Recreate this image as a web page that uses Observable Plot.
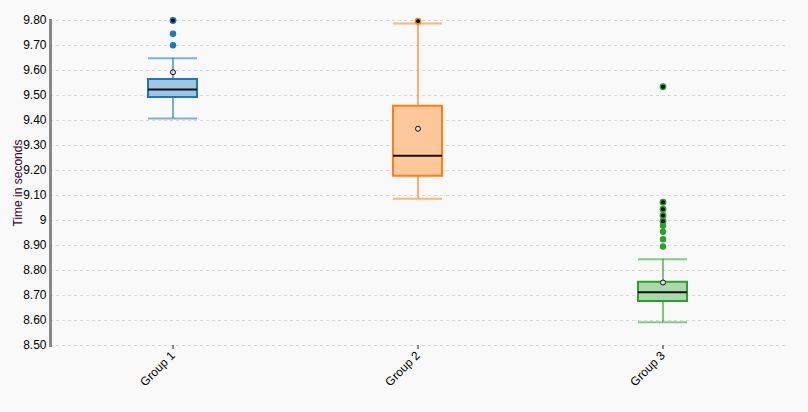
<!DOCTYPE html>
<html>
<head>
<meta charset="utf-8">
<script src="https://cdn.jsdelivr.net/npm/d3@7"></script>
<script src="https://cdn.jsdelivr.net/npm/@observablehq/plot@0.6"></script>
<style>
  html, body { margin: 0; padding: 0; background: #f9f9f9; }
  #chart svg { display: block; background: #f9f9f9; }
</style>
</head>
<body>
<div id="chart"></div>
<script>
const groups = ["Group 1", "Group 2", "Group 3"];
const colors = ["#1f77b4", "#ff7f0e", "#2ca02c"];
const fills = ["#9ec6e2", "#ffc89a", "#a9d8a9"];
const q1 = [9.492, 9.177, 8.676];
const median = [9.524, 9.259, 8.713];
const q3 = [9.564, 9.457, 8.753];
const whiskerLow = [9.408, 9.087, 8.593];
const whiskerHigh = [9.649, 9.788, 8.845];
const means = [9.593, 9.367, 8.752];
const outliers = [
  ["Group 1", 9.747], ["Group 1", 9.701],
  ["Group 3", 8.979], ["Group 3", 8.955], ["Group 3", 8.925], ["Group 3", 8.896]
];
const extremes = [
  ["Group 1", 9.80], ["Group 2", 9.797],
  ["Group 3", 9.535], ["Group 3", 9.073], ["Group 3", 9.045], ["Group 3", 9.02], ["Group 3", 8.997]
];
const yTicks = [8.5, 8.6, 8.7, 8.8, 8.9, 9.0, 9.1, 9.2, 9.3, 9.4, 9.5, 9.6, 9.7, 9.8];
const yTickLabels = ["8.50", "8.60", "8.70", "8.80", "8.90", "9", "9.10", "9.20", "9.30", "9.40", "9.50", "9.60", "9.70", "9.80"];

const boxes = groups.map((g, i) => ({
  group: g, q1: q1[i], median: median[i], q3: q3[i],
  lo: whiskerLow[i], hi: whiskerHigh[i], mean: means[i]
}));
const outData = outliers.map(([group, value]) => ({group, value}));
const extData = extremes.map(([group, value]) => ({group, value}));
const colorScale = {domain: groups, range: colors};
const fillOf = g => fills[groups.indexOf(g)];
const inset = 98;

const chart = Plot.plot({
  width: 808,
  height: 412,
  marginLeft: 50,
  marginTop: 20,
  marginRight: 23,
  marginBottom: 67,
  style: {fontFamily: "'Liberation Sans', Arial, sans-serif", fontSize: "12px", background: "#f9f9f9", color: "#000"},
  x: {domain: groups, padding: 0, label: null},
  y: {domain: [8.5, 9.8], label: null},
  color: colorScale,
  marks: [
    Plot.gridY(yTicks, {stroke: "#d8d8d8", strokeOpacity: 1, strokeDasharray: "3,3"}),
    Plot.axisY(yTicks, {tickSize: 0, tickPadding: 4, tickFormat: d => yTickLabels[yTicks.indexOf(d)], fontSize: 12}),
    Plot.axisY({ticks: [], label: "Time in seconds", labelAnchor: "center", labelArrow: "none", labelOffset: 37, fill: "#300030"}),
    Plot.axisX({tickRotate: -45, tickSize: 4, stroke: "#888", strokeWidth: 2, tickPadding: 4, fontSize: 12}),
    Plot.frame({anchor: "left", stroke: "#888", strokeWidth: 3}),
    // whisker line
    Plot.ruleX(boxes, {x: "group", y1: "lo", y2: "hi", stroke: "group", strokeWidth: 1.2}),
    // whisker caps
    Plot.tickY(boxes, {x: "group", y: "lo", stroke: "group", strokeOpacity: 0.55, strokeWidth: 2, insetLeft: inset, insetRight: inset}),
    Plot.tickY(boxes, {x: "group", y: "hi", stroke: "group", strokeOpacity: 0.55, strokeWidth: 2, insetLeft: inset, insetRight: inset}),
    // box
    Plot.rect(boxes, {x: "group", y1: "q1", y2: "q3", fill: d => fillOf(d.group), stroke: "group", strokeWidth: 2, insetLeft: inset, insetRight: inset}),
    // median
    Plot.tickY(boxes, {x: "group", y: "median", stroke: "#111", strokeWidth: 2, insetLeft: inset, insetRight: inset}),
    // mean
    Plot.dot(boxes, {x: "group", y: "mean", r: 2.5, fill: "#ddd", stroke: "#111", strokeWidth: 1}),
    // outliers
    Plot.dot(outData, {x: "group", y: "value", r: 3.2, fill: "group"}),
    Plot.dot(extData, {x: "group", y: "value", r: 3.4, fill: "group"}),
    Plot.dot(extData, {x: "group", y: "value", r: 2, fill: "#000"})
  ]
});
document.getElementById("chart").appendChild(chart);
</script>
</body>
</html>
